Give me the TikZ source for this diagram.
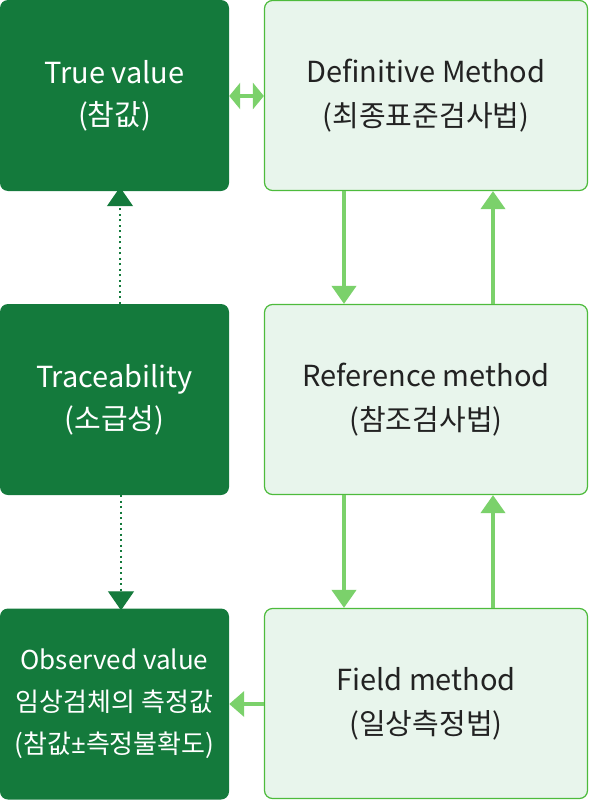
\documentclass[tikz,border=0pt]{standalone}
\usepackage{fontspec}
\setmainfont{Noto Sans CJK KR}
\newfontfamily\pmfont{Noto Sans}
\usetikzlibrary{arrows.meta}
\definecolor{dkgreen}{HTML}{147A3C}
\definecolor{ltfill}{HTML}{E8F5EC}
\definecolor{ltborder}{HTML}{4DBB3C}
\definecolor{arrgreen}{HTML}{7BD16B}
\definecolor{txtdark}{HTML}{222222}
\begin{document}
\begin{tikzpicture}[x=1pt,y=-1pt,
  darkbox/.style={fill=dkgreen,draw=none,rounded corners=8pt,minimum width=229pt,minimum height=191pt,inner sep=0pt,text=white,align=center,font=\fontsize{29}{42}\selectfont},
  lightbox/.style={fill=ltfill,draw=ltborder,line width=1.2pt,rounded corners=8pt,minimum width=323pt,minimum height=190pt,inner sep=0pt,text=txtdark,align=center,font=\fontsize{29}{44}\selectfont},
  garrow/.style={draw=arrgreen,line width=4pt,-{Triangle[width=24pt,length=18pt]}},
  darrow/.style={draw=arrgreen,line width=4pt,{Triangle[width=26pt,length=11pt]}-{Triangle[width=26pt,length=11pt]}},
  larrow/.style={draw=arrgreen,line width=4pt,-{Triangle[width=25pt,length=15pt]}},
  dotarrow/.style={draw=dkgreen,line width=1.3pt,dash pattern=on 2pt off 3.5pt,-{Triangle[width=26pt,length=19pt,fill=dkgreen]}}
]
\useasboundingbox (0,0) rectangle (589,800);
\node[darkbox] (tv) at (114.5,95.5) {True value\\(참값)};
\node[darkbox] (tr) at (114.5,399.5) {Traceability\\(소급성)};
\node[darkbox,font=\fontsize{26}{42}\selectfont] (ov) at (114.5,704) {Observed value\\임상검체의 측정값\\(참값{\pmfont ±}측정불확도)};
\node[lightbox] (dm) at (426,95.5) {Definitive Method\\(최종표준검사법)};
\node[lightbox] (rm) at (426,399.5) {Reference method\\(참조검사법)};
\node[lightbox] (fm) at (426,703.5) {Field method\\(일상측정법)};
% double arrow
\draw[darrow] (tv.east |- 0,96) -- (dm.west |- 0,96);
% down arrows
\draw[garrow] (dm.south -| 344,0) -- (rm.north -| 344,0);
\draw[garrow] (rm.south -| 344,0) -- (fm.north -| 344,0);
% up arrows
\draw[garrow] (rm.north -| 493,0) -- (dm.south -| 493,0);
\draw[garrow] (fm.north -| 493,0) -- (rm.south -| 493,0);
% left arrow
\draw[larrow] (fm.west |- 0,704) -- (ov.east |- 0,704);
% dotted
\draw[dotarrow] (tr.north -| 120,0) -- ([yshift=4pt]tv.south -| 120,0);
\draw[dotarrow] (tr.south -| 121,0) -- ([yshift=-2pt]ov.north -| 121,0);
\end{tikzpicture}
\end{document}
